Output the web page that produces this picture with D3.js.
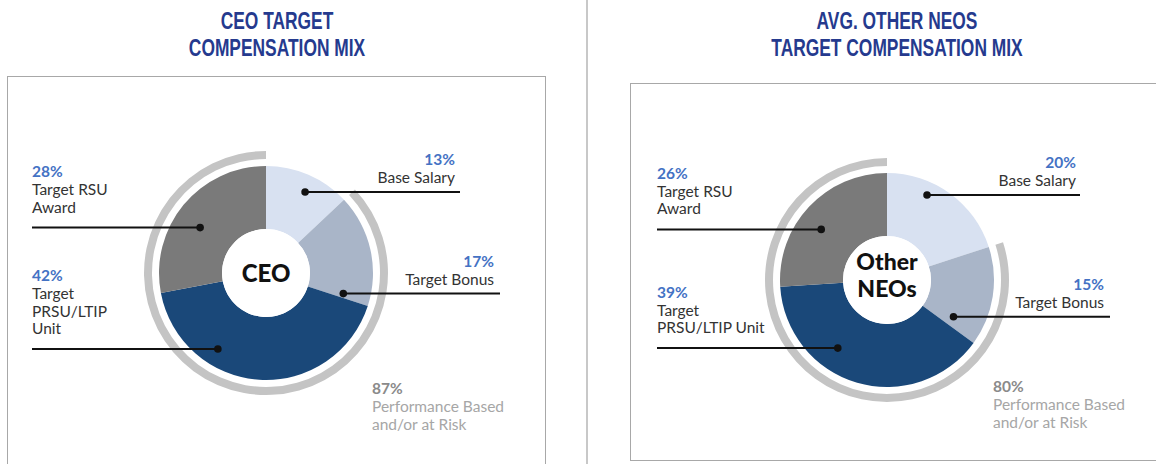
<!DOCTYPE html>
<html>
<head>
<meta charset="utf-8">
<script src="https://cdn.jsdelivr.net/npm/d3@7"></script>
<style>
  html, body { margin: 0; padding: 0; background: #ffffff; }
  svg { display: block; }
</style>
</head>
<body>
<div id="chart"></div>
<script>
// data
const categories = ['Base Salary', 'Target Bonus', 'Target PRSU/LTIP Unit', 'Target RSU Award'];
const ceoValues = [13, 17, 42, 28];
const neoValues = [20, 15, 39, 26];
const ceoAtRisk = 87;
const neoAtRisk = 80;
const ceoLabelLines = [['Base Salary'], ['Target Bonus'], ['Target', 'PRSU/LTIP', 'Unit'], ['Target RSU', 'Award']];
const neoLabelLines = [['Base Salary'], ['Target Bonus'], ['Target', 'PRSU/LTIP Unit'], ['Target RSU', 'Award']];
const atRiskLines = ['Performance Based', 'and/or at Risk'];
const ceoTitle = ['CEO TARGET', 'COMPENSATION MIX'];
const neoTitle = ['AVG. OTHER NEOS', 'TARGET COMPENSATION MIX'];

const sliceColors = ['#d8e1f1', '#a9b5c8', '#1a4879', '#7a7a7a'];
const titleColor = '#253a8e';
const pctColor = '#4472c4';
const bodyFont = 'Lato, "Open Sans", sans-serif';
const bodySize = '15.5px';

const W = 1156, H = 464;
const innerR = 44, outerR = 107, ringIn = 114, ringOut = 122;

// layout of the annotations (side, where the dot sits in its slice, where the leader ends)
const panels = [
  {
    title: ceoTitle, titleX: 277, cx: 266, cy: 273, values: ceoValues, lines: ceoLabelLines,
    atRisk: ceoAtRisk, center: ['CEO'],
    box: {x: 7.5, y: 76.5, w: 538, h: 420},
    perf: {x: 372, y: 394},
    anchors: [
      {side: 'right', frac: 0.55, r: 90, end: 460, textX: 455},
      {side: 'right', frac: 0.95, r: 80, end: 500, textX: 494},
      {side: 'left', frac: 0.69, r: 90, end: 32, textX: 32},
      {side: 'left', frac: 0.45, r: 80, end: 32, textX: 32}
    ]
  },
  {
    title: neoTitle, titleX: 897, cx: 887, cy: 280, values: neoValues, lines: neoLabelLines,
    atRisk: neoAtRisk, center: ['Other', 'NEOs'],
    box: {x: 630.5, y: 83.5, w: 540, h: 377},
    perf: {x: 993, y: 392},
    anchors: [
      {side: 'right', frac: 0.35, r: 94, end: 1080, textX: 1076},
      {side: 'right', frac: 0.87, r: 76, end: 1110, textX: 1104},
      {side: 'left', frac: 0.64, r: 84, end: 657, textX: 657},
      {side: 'left', frac: 0.44, r: 83, end: 657, textX: 657}
    ]
  }
];

const svg = d3.select('#chart').append('svg')
  .attr('width', W)
  .attr('height', H);

// divider between the two panels
svg.append('line')
  .attr('x1', 587).attr('x2', 587)
  .attr('y1', 0).attr('y2', H)
  .attr('stroke', '#c8c8c8')
  .attr('stroke-width', 2);

const pie = d3.pie().sort(null).value(d => d);
const arc = d3.arc().innerRadius(innerR).outerRadius(outerR);
const ringArc = d3.arc().innerRadius(ringIn).outerRadius(ringOut);

const drawPanel = (p) => {
  // title, condensed by squeezing horizontally (no narrow font installed)
  p.title.forEach((t, i) => {
    svg.append('text')
      .attr('transform', `translate(${p.titleX},${29 + i * 27}) scale(0.74,1)`)
      .attr('text-anchor', 'middle')
      .style('font-family', '"Liberation Sans", Arial, sans-serif')
      .style('font-weight', 'bold')
      .style('font-size', '23.5px')
      .style('fill', titleColor)
      .text(t);
  });

  svg.append('rect')
    .attr('x', p.box.x).attr('y', p.box.y)
    .attr('width', p.box.w).attr('height', p.box.h)
    .attr('fill', 'none')
    .attr('stroke', '#a8a8a8')
    .attr('stroke-width', 1);

  const g = svg.append('g')
    .attr('transform', `translate(${p.cx},${p.cy})`);

  const slices = pie(p.values);

  // at-risk ring: everything after base salary
  const total = d3.sum(p.values);
  const startFrac = p.values[0] / total;
  g.append('path')
    .attr('d', ringArc({startAngle: startFrac * 2 * Math.PI, endAngle: 2 * Math.PI}))
    .attr('fill', '#c4c4c4');

  g.selectAll('path.slice')
    .data(slices)
    .enter()
    .append('path')
    .attr('class', 'slice')
    .attr('d', arc)
    .attr('fill', (d, i) => sliceColors[i]);

  g.append('circle')
    .attr('r', innerR)
    .attr('fill', '#ffffff');

  const nCenter = p.center.length;
  p.center.forEach((t, i) => {
    g.append('text')
      .attr('x', 0)
      .attr('y', nCenter === 1 ? 9 : -10 + i * 27)
      .attr('text-anchor', 'middle')
      .style('font-family', bodyFont)
      .style('font-weight', 900)
      .style('font-size', nCenter === 1 ? '24px' : '23px')
      .style('fill', '#111111')
      .text(t);
  });

  // leaders and labels
  slices.forEach((s, i) => {
    const a = p.anchors[i];
    const ang = s.startAngle + a.frac * (s.endAngle - s.startAngle);
    const dx = p.cx + a.r * Math.sin(ang);
    const dy = p.cy - a.r * Math.cos(ang);

    svg.append('line')
      .attr('x1', dx).attr('x2', a.end)
      .attr('y1', dy).attr('y2', dy)
      .attr('stroke', '#111111')
      .attr('stroke-width', 2);
    svg.append('circle')
      .attr('cx', dx).attr('cy', dy)
      .attr('r', 3.8)
      .attr('fill', '#111111');

    const lines = p.lines[i];
    const gap = a.side === 'left' ? 15 : 9;
    const lh = 17.5;
    const anchor = a.side === 'left' ? 'start' : 'end';
    const lastY = dy - gap;
    lines.forEach((t, j) => {
      svg.append('text')
        .attr('x', a.textX)
        .attr('y', lastY - (lines.length - 1 - j) * lh)
        .attr('text-anchor', anchor)
        .style('font-family', bodyFont)
        .style('font-size', bodySize)
        .style('fill', '#333333')
        .text(t);
    });
    svg.append('text')
      .attr('x', a.textX)
      .attr('y', lastY - (lines.length - 1) * lh - 18)
      .attr('text-anchor', anchor)
      .style('font-family', bodyFont)
      .style('font-weight', 'bold')
      .style('font-size', bodySize)
      .style('fill', pctColor)
      .text(p.values[i] + '%');
  });

  // at-risk label
  svg.append('text')
    .attr('x', p.perf.x)
    .attr('y', p.perf.y)
    .style('font-family', bodyFont)
    .style('font-weight', 'bold')
    .style('font-size', bodySize)
    .style('fill', '#8a8a8a')
    .text(p.atRisk + '%');
  atRiskLines.forEach((t, j) => {
    svg.append('text')
      .attr('x', p.perf.x)
      .attr('y', p.perf.y + 18 + j * 17.5)
      .style('font-family', bodyFont)
      .style('font-size', bodySize)
      .style('fill', '#a6a6a6')
      .text(t);
  });
}

panels.forEach(drawPanel);
</script>
</body>
</html>
